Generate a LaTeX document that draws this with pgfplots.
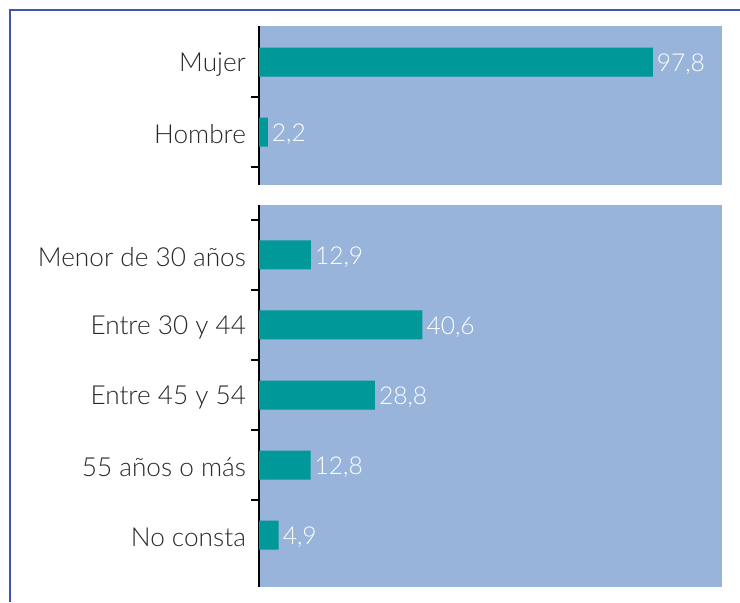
\documentclass[border=0pt]{standalone}
\usepackage{fontspec}
\setmainfont{Lato Light}
\usepackage{pgfplots}
\pgfplotsset{compat=1.18}
\definecolor{bgblue}{RGB}{152,180,218}
\definecolor{barteal}{RGB}{0,152,152}
\definecolor{txtgray}{RGB}{40,40,40}
\definecolor{framebl}{RGB}{60,85,185}

\pgfplotsset{
  panel/.style={
    scale only axis, width=231.5pt,
    xbar, bar width=14.5pt, bar shift=0pt,
    xmin=0, xmax=115,
    y dir=reverse,
    axis x line=none, axis y line*=left,
    y axis line style={line width=1pt, draw=black, -},
    axis background/.style={fill=bgblue},
    yticklabels={}, tick align=outside,
    major tick length=4pt,
    ytick style={line width=1pt, black},
    extra y tick style={major tick length=0pt,
      yticklabel style={font=\fontsize{13.1}{15}\selectfont, text=txtgray, xshift=-3pt, yshift=-1.2pt}},
    /pgf/number format/assume math mode=true,
    nodes near coords={\pgfmathprintnumber[fixed,precision=1,fixed zerofill,use comma]{\pgfplotspointmeta}},
    nodes near coords style={font=\fontsize{12.3}{14}\selectfont, text=white, anchor=west, xshift=-1.5pt, yshift=-1pt},
  }
}

\begin{document}
\begin{tikzpicture}
\useasboundingbox (0,0) rectangle (370pt,-301pt);
\draw[framebl, line width=0.6pt] (5pt,-301pt) -- (5pt,-5pt) -- (370pt,-5pt);

\begin{axis}[panel, height=79.5pt,
  at={(129.5pt,-13pt)}, anchor=north west,
  ymin=-0.514, ymax=1.757,
  ytick={0.5,1.5},
  extra y ticks={0,1},
  extra y tick labels={Mujer,Hombre}]
\addplot[fill=barteal, draw=none] coordinates {(97.8,0) (2.2,1)};
\end{axis}

\begin{axis}[panel, height=191pt,
  at={(129.5pt,-102.5pt)}, anchor=north west,
  ymin=-0.714, ymax=4.743,
  ytick={-0.5,0.5,1.5,2.5,3.5},
  extra y ticks={0,1,2,3,4},
  extra y tick labels={Menor de 30 años,Entre 30 y 44,Entre 45 y 54,55 años o más,No consta}]
\addplot[fill=barteal, draw=none] coordinates {(12.9,0) (40.6,1) (28.8,2) (12.8,3) (4.9,4)};
\end{axis}
\end{tikzpicture}
\end{document}
